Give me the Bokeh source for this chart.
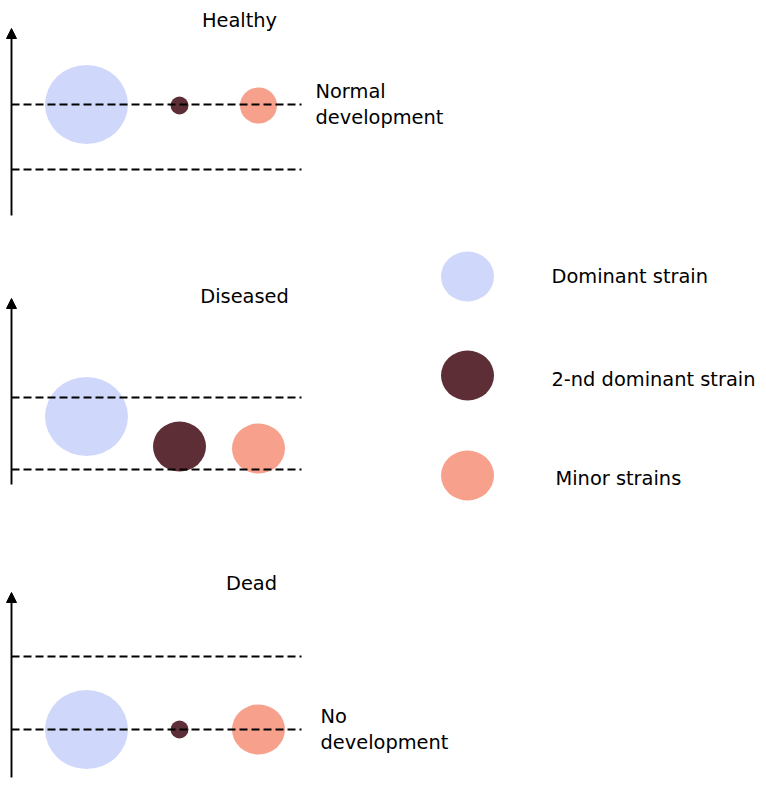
from bokeh.plotting import figure
from bokeh.models import Range1d, Arrow, NormalHead, ColumnDataSource
from bokeh.core.properties import value
from bokeh.embed import file_html
from bokeh.resources import INLINE

# ---- data ----
panel_titles = ["Healthy", "Diseased", "Dead"]
strains = ["Dominant strain", "2-nd dominant strain", "Minor strains"]
strain_colors = ["#cfd8fb", "#5e2e37", "#f7a08b"]
strain_x = [86, 179, 258]

# strain level in each panel (units above the axis bottom)
healthy_levels = [111, 110, 110]
diseased_levels = [68, 38, 36]
dead_levels = [48, 48, 48]

# bubble sizes (width, height) in each panel
healthy_w = [83, 18, 37]
healthy_h = [79, 18, 36]
diseased_w = [83, 53, 53]
diseased_h = [79, 50, 50]
dead_w = [83, 18, 53]
dead_h = [79, 18, 50]

# dashed reference levels in each panel
healthy_refs = [111, 46]
diseased_refs = [87, 15]
dead_refs = [121, 48]

panel_notes = ["Normal\ndevelopment", "", "No\ndevelopment"]

# ---- layout ----
panel_bottom = [215, 484, 777]
axis_len = [187, 186, 185]
title_x = [239, 244, 251]
title_y = [20, 296, 583]
note_x = [315, 0, 320]
line_x0, line_x1 = 11, 301
legend_x = 467
legend_y = [276, 375, 475]
legend_text_x = [551, 551, 555]
legend_text_y = [276, 379, 478]
FONT = "DejaVu Sans"
FS = "19.4px"

p = figure(width=758, height=779, x_range=Range1d(0, 758), y_range=Range1d(779, 0),
           output_backend="svg", toolbar_location=None, x_axis_type=None, y_axis_type=None,
           min_border=0, outline_line_color=None)
p.grid.visible = False
p.background_fill_color = "white"

levels = [healthy_levels, diseased_levels, dead_levels]
ws = [healthy_w, diseased_w, dead_w]
hs = [healthy_h, diseased_h, dead_h]
refs = [healthy_refs, diseased_refs, dead_refs]

for i in range(3):
    b = panel_bottom[i]
    # bubbles
    src = ColumnDataSource(dict(x=strain_x, y=[b - v for v in levels[i]], w=ws[i], h=hs[i],
                                c=strain_colors))
    p.ellipse(x="x", y="y", width="w", height="h", fill_color="c", line_color=None,
              width_units="screen", height_units="screen", source=src)
    # dashed reference lines over bubbles
    for r in refs[i]:
        p.line([line_x0, line_x1], [b - r, b - r], line_color="black", line_width=1.9,
               line_dash="8 4")
    # axis arrow
    p.add_layout(Arrow(x_start=line_x0, y_start=b, x_end=line_x0, y_end=b - axis_len[i],
                       line_color="black", line_width=1.9,
                       end=NormalHead(size=10, fill_color="black", line_color="black", line_width=1)))
    # title
    p.text(x=[title_x[i]], y=[title_y[i]], text=[panel_titles[i]], text_font=value(FONT),
           text_font_size=FS, text_align="center", text_baseline="middle", text_color="black")
    if panel_notes[i]:
        p.text(x=[note_x[i]], y=[b - levels[i][0]], text=[panel_notes[i]], text_font=value(FONT),
               text_font_size=FS, text_align="left", text_baseline="middle", text_color="black",
               text_line_height=1.1)

# legend
p.ellipse(x=[legend_x] * 3, y=legend_y, width=53, height=50, fill_color=strain_colors,
          line_color=None, width_units="screen", height_units="screen")
p.text(x=legend_text_x, y=legend_text_y, text=strains, text_font=value(FONT), text_font_size=FS,
       text_align="left", text_baseline="middle", text_color="black")

open("out.html", "w").write(file_html(p, INLINE))
